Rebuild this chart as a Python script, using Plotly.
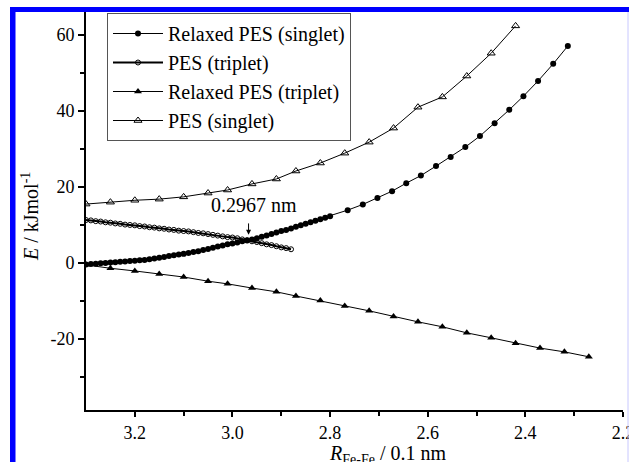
import plotly.graph_objects as go

# ---- data ----
# Relaxed PES (singlet): dense part (0.01 steps) + sparse part
rs_x = [3.30, 3.29, 3.28, 3.27, 3.26, 3.25, 3.24, 3.23, 3.22, 3.21, 3.20, 3.19, 3.18,
        3.17, 3.16, 3.15, 3.14, 3.13, 3.12, 3.11, 3.10, 3.09, 3.08, 3.07, 3.06, 3.05,
        3.04, 3.03, 3.02, 3.01, 3.00, 2.99, 2.98, 2.97, 2.96, 2.95, 2.94, 2.93, 2.92,
        2.91, 2.90, 2.89, 2.88, 2.87, 2.86, 2.85, 2.84, 2.83, 2.82, 2.81, 2.80,
        2.764, 2.733, 2.703, 2.673, 2.644, 2.614, 2.583, 2.553, 2.523, 2.493, 2.463,
        2.433, 2.404, 2.374, 2.343, 2.313]
rs_y = [-0.4, -0.3, -0.2, -0.1, 0.0, 0.1, 0.2, 0.3, 0.4, 0.5, 0.6, 0.7, 0.8,
        1.0, 1.2, 1.4, 1.6, 1.8, 2.0, 2.2, 2.4, 2.6, 2.9, 3.1, 3.4, 3.7,
        4.0, 4.3, 4.6, 4.9, 5.1, 5.4, 5.7, 5.9, 6.2, 6.5, 6.9, 7.2, 7.6,
        8.0, 8.4, 8.7, 9.1, 9.5, 9.9, 10.3, 10.7, 11.1, 11.5, 11.9, 12.3,
        13.9, 15.4, 17.1, 18.9, 21.0, 23.0, 25.5, 27.9, 30.5, 33.4, 36.8,
        40.3, 43.9, 47.9, 52.4, 57.1]

# PES (triplet)
pt_x = [3.30, 3.29, 3.28, 3.27, 3.26, 3.25, 3.24, 3.23, 3.22, 3.21, 3.20, 3.19, 3.18,
        3.17, 3.16, 3.15, 3.14, 3.13, 3.12, 3.11, 3.10, 3.09, 3.08, 3.07, 3.06, 3.05,
        3.04, 3.03, 3.02, 3.01, 3.00, 2.99, 2.98, 2.97, 2.96, 2.95, 2.94, 2.93, 2.92,
        2.91, 2.90, 2.89, 2.88]
pt_y = [11.3, 11.2, 11.0, 10.9, 10.7, 10.6, 10.4, 10.3, 10.1, 10.0, 9.9, 9.7, 9.6,
        9.4, 9.3, 9.1, 9.0, 8.8, 8.7, 8.5, 8.4, 8.3, 8.1, 7.9, 7.8, 7.6,
        7.4, 7.2, 7.0, 6.8, 6.7, 6.5, 6.2, 6.0, 5.7, 5.5, 5.2, 4.9, 4.7,
        4.4, 4.1, 3.9, 3.6]

# Relaxed PES (triplet)
rt_x = [3.30, 3.25, 3.20, 3.15, 3.10, 3.05, 3.01, 2.96, 2.91, 2.87, 2.82, 2.77,
        2.72, 2.67, 2.62, 2.57, 2.52, 2.47, 2.42, 2.37, 2.32, 2.27]
rt_y = [-0.5, -1.4, -2.1, -2.9, -3.7, -4.8, -5.5, -6.6, -7.6, -8.7, -9.9, -11.3,
        -12.6, -14.1, -15.5, -16.8, -18.4, -19.7, -21.1, -22.4, -23.4, -24.7]

# PES (singlet)
ps_x = [3.30, 3.25, 3.20, 3.15, 3.10, 3.05, 3.01, 2.96, 2.91, 2.87, 2.82, 2.77,
        2.72, 2.67, 2.62, 2.57, 2.52, 2.47, 2.42]
ps_y = [15.5, 16.0, 16.5, 16.8, 17.4, 18.4, 19.2, 20.8, 22.1, 24.2, 26.3, 28.9,
        31.8, 35.5, 41.0, 43.7, 49.2, 55.2, 62.4]

x_ticks = [3.2, 3.0, 2.8, 2.6, 2.4, 2.2]
x_labels = ["3.2", "3.0", "2.8", "2.6", "2.4", "2.2"]
y_ticks = [-20, 0, 20, 40, 60]
y_labels = ["-20", "0", "20", "40", "60"]

cross_x = 2.967
cross_label = "0.2967 nm"

FONT = "Liberation Serif"

fig = go.Figure()

fig.add_trace(go.Scatter(
    x=pt_x, y=pt_y, mode="lines+markers", name="PES (triplet)", legendrank=2,
    line=dict(color="black", width=2),
    marker=dict(symbol="circle-open", size=5, color="black", line=dict(width=1))))
fig.add_trace(go.Scatter(
    x=rs_x, y=rs_y, mode="lines+markers", name="Relaxed PES (singlet)", legendrank=1,
    line=dict(color="black", width=1),
    marker=dict(symbol="circle", size=6, color="black")))
fig.add_trace(go.Scatter(
    x=rt_x, y=rt_y, mode="lines+markers", name="Relaxed PES (triplet)", legendrank=3,
    line=dict(color="black", width=1),
    marker=dict(symbol="triangle-up", size=7, color="black")))
fig.add_trace(go.Scatter(
    x=ps_x, y=ps_y, mode="lines+markers", name="PES (singlet)", legendrank=4,
    line=dict(color="black", width=1),
    marker=dict(symbol="triangle-up-open", size=7, color="black", line=dict(width=1))))

# plot-area pixel geometry
L, R, T, B = 86, 623, 12, 410
W, H = R - L, B - T
def px(xp):
    return (xp - L) / W
def py(yp):
    return (B - yp) / H

fig.update_layout(
    width=629, height=462, autosize=False,
    margin=dict(l=L, r=629 - R, t=T, b=462 - B, autoexpand=False),
    paper_bgcolor="white", plot_bgcolor="white",
    font=dict(family=FONT, color="black", size=18),
    showlegend=True,
    legend=dict(x=px(107), y=py(13), xanchor="left", yanchor="top",
                bgcolor="white", bordercolor="#555555", borderwidth=1,
                font=dict(family=FONT, size=20, color="black"),
                itemwidth=50, tracegroupgap=0),
    xaxis=dict(range=[3.3, 2.2], tickvals=x_ticks, ticktext=x_labels,
               ticklabeloverflow="allow", automargin=False,
               showgrid=False, zeroline=False, showline=True, linecolor="black", linewidth=2,
               ticks="outside", ticklen=5, tickwidth=2, tickcolor="black",
               tickfont=dict(family=FONT, size=18),
               minor=dict(tickvals=[3.1, 2.9, 2.7, 2.5, 2.3], ticks="outside", ticklen=4,
                          tickwidth=2, tickcolor="black")),
    yaxis=dict(range=[-38.7, 66.05], tickvals=y_ticks, ticktext=y_labels,
               automargin=False, showgrid=False, zeroline=False,
               showline=True, linecolor="black", linewidth=2,
               ticks="outside", ticklen=6, tickwidth=2, tickcolor="black",
               tickfont=dict(family=FONT, size=18),
               minor=dict(tickvals=[-30, -10, 10, 30, 50], ticks="outside", ticklen=4,
                          tickwidth=2, tickcolor="black")),
)

# annotation: crossing point
fig.add_annotation(x=2.956, y=15.3, text=cross_label, showarrow=False,
                   font=dict(family=FONT, size=20, color="black"))
fig.add_annotation(x=cross_x, y=7.4, ax=cross_x, ay=10.8, axref="x", ayref="y",
                   text="", showarrow=True, arrowhead=2, arrowsize=1, arrowwidth=1,
                   arrowcolor="black")

# axis titles
fig.add_annotation(xref="paper", yref="paper", x=px(30), y=py(217), textangle=-90,
                   text="<i>E</i> / kJmol<sup>-1</sup>", showarrow=False,
                   xanchor="center", yanchor="middle",
                   font=dict(family=FONT, size=20, color="black"))
fig.add_annotation(xref="paper", yref="paper", x=px(327), y=py(454),
                   text="<i>R</i><sub>Fe-Fe</sub> / 0.1 nm", showarrow=False,
                   xanchor="left", yanchor="middle",
                   font=dict(family=FONT, size=20, color="black"))

# blue frame
fig.add_shape(type="rect", xref="paper", yref="paper", x0=px(10), x1=px(15.5),
              y0=py(470), y1=py(7), fillcolor="#0000ff", line=dict(width=0), layer="above")
fig.add_shape(type="rect", xref="paper", yref="paper", x0=px(10), x1=px(632),
              y0=py(12), y1=py(7), fillcolor="#0000ff", line=dict(width=0), layer="above")
fig.add_shape(type="line", xref="paper", yref="paper", x0=px(628), x1=px(628),
              y0=py(470), y1=py(12), line=dict(color="#c8c8ff", width=1), layer="above")

fig.write_html("out.html")
